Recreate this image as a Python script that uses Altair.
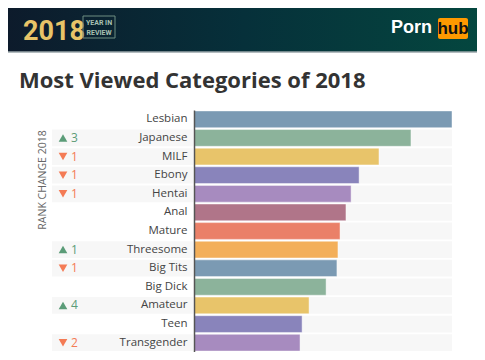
import altair as alt
import pandas as pd

categories = ["Lesbian", "Japanese", "MILF", "Ebony", "Hentai", "Anal", "Mature",
              "Threesome", "Big Tits", "Big Dick", "Amateur", "Teen", "Transgender"]
values = [100, 84.1, 71.7, 64.0, 60.9, 58.9, 56.6, 55.8, 55.4, 51.2, 44.6, 41.9, 41.1]
rank_change = [0, 3, -1, -1, -1, 0, 0, 1, -1, 0, 4, 0, -2]
colors = ["#7b9ab3", "#8cb39b", "#e8c46a", "#8984bb", "#a78bbf", "#b07589", "#ea8068",
          "#f3af5a", "#7b9ab3", "#8cb39b", "#e8c46a", "#8984bb", "#a78bbf"]

df = pd.DataFrame({
    "category": categories,
    "value": values,
    "full": [max(values)] * len(values),
    "change": rank_change,
    "color": colors,
})
df["num"] = df["change"].abs().astype(str)
df["dir"] = ["up" if c > 0 else ("down" if c < 0 else "none") for c in rank_change]

W, H = 258, 242
xscale = alt.Scale(domain=[0, max(values)], nice=False)
yenc = alt.Y("category:N", sort=categories,
             scale=alt.Scale(paddingInner=0.1, paddingOuter=0.05),
             axis=alt.Axis(title=None, ticks=False, domain=True, domainColor="#555555",
                           domainWidth=1.5, labelFontSize=11.5, labelColor="#444444",
                           labelFont="Open Sans", labelPadding=7, grid=False, zindex=2))

base = alt.Chart(df)

bg = base.mark_bar(color="#f7f7f7").encode(
    y=yenc, x=alt.X("full:Q", scale=xscale, axis=None))

left_bg = base.transform_filter("datum.change != 0").mark_bar(color="#f7f7f7").encode(
    y=yenc, x=alt.value(-142), x2=alt.value(-1))

bars = base.mark_bar(stroke="white", strokeOpacity=0.45, strokeWidth=1).encode(
    y=yenc, x=alt.X("value:Q", scale=xscale, axis=None),
    color=alt.Color("color:N", scale=None))

chg = base.transform_filter("datum.change != 0")
dir_color = alt.Color("dir:N", scale=alt.Scale(domain=["up", "down"],
                                                range=["#5b9c78", "#f47b55"]), legend=None)
tri = chg.mark_point(filled=True, opacity=1, size=75).encode(
    y=yenc, x=alt.value(-131), color=dir_color,
    shape=alt.Shape("dir:N", scale=alt.Scale(domain=["up", "down"],
                                             range=["triangle-up", "triangle-down"]),
                    legend=None))
nums = chg.mark_text(align="left", baseline="middle", fontSize=12, font="Open Sans").encode(
    y=yenc, x=alt.value(-123), text="num:N", color=dir_color)

one = pd.DataFrame({"k": [0]})
deco = alt.Chart(one)

rank_title = deco.mark_text(text="RANK CHANGE 2018", angle=270, align="center",
                            baseline="middle", fontSize=10.5, font="Open Sans",
                            color="#666666").encode(x=alt.value(-151), y=alt.value(70))

header = deco.mark_rect(color=alt.LinearGradient(
    gradient="linear", x1=0, x2=1, y1=0, y2=0,
    stops=[alt.GradientStop(color="#0d1a2b", offset=0),
           alt.GradientStop(color="#06303a", offset=0.5),
           alt.GradientStop(color="#04473f", offset=1)])).encode(
    x=alt.value(-194), x2=alt.value(291), y=alt.value(-110), y2=alt.value(-58))
header_line = deco.mark_rule(color="#9aa6aa", strokeWidth=1.5).encode(
    x=alt.value(-194), x2=alt.value(291), y=alt.value(-58))

t2018 = deco.mark_text(text="2018", align="left", baseline="alphabetic", fontSize=27,
                       font="Roboto", fontWeight="bold",
                       color="#e8c468").encode(x=alt.value(-171), y=alt.value(-70))
box = deco.mark_rect(fill=None, stroke="#6f8f82", strokeWidth=1).encode(
    x=alt.value(-111), x2=alt.value(-79), y=alt.value(-94), y2=alt.value(-72))
yr1 = deco.mark_text(text="YEAR IN", align="center", baseline="alphabetic", fontSize=7,
                     fontWeight="bold", font="Roboto", color="#a8c0b2").encode(
    x=alt.value(-95), y=alt.value(-85))
yr2 = deco.mark_text(text="REVIEW", align="center", baseline="alphabetic", fontSize=7,
                     fontWeight="bold", font="Roboto", color="#a8c0b2").encode(
    x=alt.value(-95), y=alt.value(-75.5))

porn = deco.mark_text(text="Porn", align="left", baseline="alphabetic", fontSize=18,
                      font="Liberation Sans", fontWeight="bold", color="white").encode(
    x=alt.value(197), y=alt.value(-77))
hubbox = deco.mark_rect(color="#ff9900", cornerRadius=2).encode(
    x=alt.value(244), x2=alt.value(274), y=alt.value(-92), y2=alt.value(-71))
hub = deco.mark_text(text="hub", align="center", baseline="alphabetic", fontSize=17,
                     font="Liberation Sans", fontWeight="bold", color="#111111").encode(
    x=alt.value(259), y=alt.value(-76))

title = deco.mark_text(text="Most Viewed Categories of 2018", align="left",
                       baseline="alphabetic", fontSize=22, font="Open Sans", fontWeight="bold",
                       color="#333333").encode(x=alt.value(-175), y=alt.value(-22))

chart = alt.layer(header, header_line, t2018, box, yr1, yr2, hubbox, porn, hub, title,
                  bg, left_bg, bars, tri, nums, rank_title).properties(
    width=W, height=H, autosize="none",
    padding={"left": 186, "top": 102, "right": 25, "bottom": 0},
).configure_view(stroke=None)

chart.save("out.html", embed_options={"renderer": "svg", "actions": False})
